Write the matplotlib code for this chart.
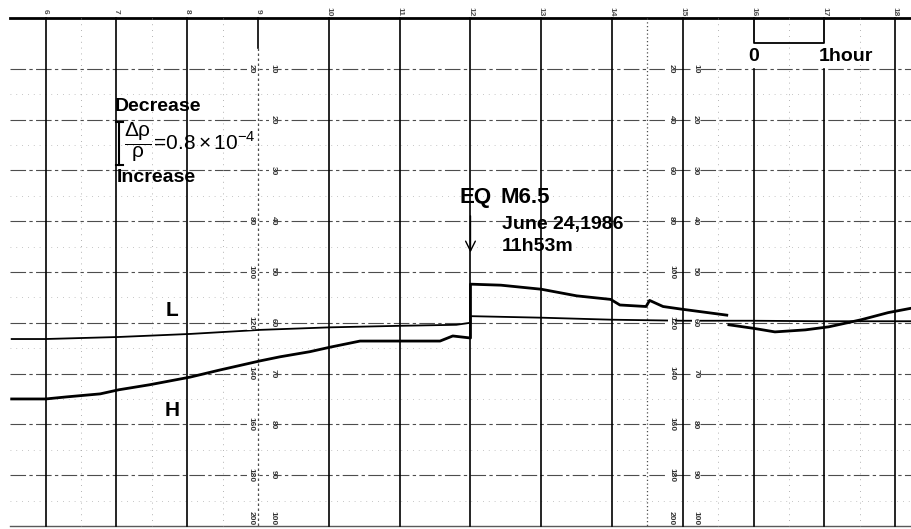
import numpy as np
import matplotlib
matplotlib.use("Agg")
import matplotlib.pyplot as plt

plt.rcParams["font.family"] = ["Liberation Sans", "DejaVu Sans"]
plt.rcParams["mathtext.fontset"] = "custom"
plt.rcParams["mathtext.rm"] = "Liberation Sans"
plt.rcParams["mathtext.it"] = "Liberation Sans:italic"
plt.rcParams["mathtext.bf"] = "Liberation Sans:bold"
plt.rcParams["mathtext.default"] = "rm"

# time axis (hour of day) and chart-paper units (0 = top line, 100 = bottom)
hours = list(range(6, 19))
major_units = [10, 20, 30, 40, 50, 60, 70, 80, 90]
minor_units = [15, 25, 35, 45, 55, 65, 75, 85, 95]
scale_units = [10, 20, 30, 40, 50, 60, 70, 80, 90, 100]

# L trace
l_hours = [5.52, 6.0, 7.03, 8.04, 9.03, 10.02, 11.0, 11.8, 12.0, 12.0, 13.0, 14.0, 15.0, 15.98, 16.98, 18.24]
l_vals = [63.2, 63.2, 62.8, 62.2, 61.4, 60.9, 60.6, 60.4, 60.0, 58.7, 59.0, 59.4, 59.6, 59.6, 59.7, 59.7]

# H trace (NaN = pen gap)
h_hours = [5.52, 6.0, 6.29, 6.77, 7.03, 7.47, 8.04, 8.46, 9.03, 9.31, 9.73, 10.02, 10.44,
           11.0, 11.57, 11.75, 12.0, 12.0, 12.43, 13.0, 13.5, 13.98, 14.11, 14.48, 14.53,
           14.72, 14.97, 15.62, np.nan, 15.65, 16.0, 16.3, 16.73, 17.06, 17.52, 17.9, 18.24]
h_vals = [75.0, 75.0, 74.6, 74.0, 73.2, 72.2, 70.7, 69.3, 67.5, 66.7, 65.7, 64.8, 63.6,
          63.6, 63.6, 62.6, 63.0, 52.4, 52.6, 53.4, 54.7, 55.4, 56.5, 56.8, 55.6,
          56.8, 57.3, 58.5, np.nan, 60.4, 61.1, 61.8, 61.4, 60.8, 59.4, 58.0, 57.1]

fig = plt.figure(figsize=(9.12, 5.29), dpi=100)
ax = fig.add_axes([0, 0, 1, 1])
ax.set_xlim(5.355, 18.236)
ax.set_ylim(100.6, -3.54)
ax.axis("off")

x0 = 5.5
# horizontal grid
for u in major_units:
    ax.plot([x0, 18.3], [u, u], color="0.3", lw=0.8, ls=(0, (14, 3, 3, 3)))
for u in minor_units:
    ax.plot([x0, 18.3], [u, u], color="0.7", lw=0.6, ls=(0, (1, 6)))
ax.plot([x0, 18.3], [100, 100], color="0.35", lw=1.0)
ax.plot([x0, 18.3], [0, 0], color="black", lw=2.0)

# half-hour dotted lines
for hh in [6.5, 7.5, 8.5, 15.5, 16.5, 17.5]:
    ax.plot([hh, hh], [0, 100], color="0.6", lw=0.6, ls=(0, (1, 6)))
ax.plot([14.5, 14.5], [0, 100], color="0.3", lw=0.9, ls=(0, (1, 2)))

# hour lines
for h in hours:
    if h == 9:
        ax.plot([h, h], [0, 6], color="black", lw=1.2)
        ax.plot([h, h], [6, 100], color="0.3", lw=0.9, ls=(0, (2, 2)))
    elif h in (16, 17):
        ax.plot([h, h], [10, 100], color="black", lw=1.2)
    else:
        ax.plot([h, h], [0, 100], color="black", lw=1.2)
    ax.text(h, -1.3, str(h), rotation=-90, fontsize=6, color="0.3",
            ha="center", va="center", fontweight="bold")

# chart paper scale numbers
for col_l, col_r, skip in [(8.905, 9.21, (20, 30)), (14.84, 15.18, ())]:
    for u in scale_units:
        yy = min(u, 98.4)
        if u not in skip:
            ax.text(col_l, yy, str(2 * u), rotation=-90, fontsize=6, fontweight="bold",
                    color="0.2", ha="center", va="center",
                    bbox=dict(fc="white", ec="none", pad=0.3))
        ax.text(col_r, yy, str(u), rotation=-90, fontsize=6, fontweight="bold",
                color="0.2", ha="center", va="center",
                bbox=dict(fc="white", ec="none", pad=0.3))

# traces
ax.plot(l_hours, l_vals, color="black", lw=1.3)
ax.plot(h_hours, h_vals, color="black", lw=2.0)

# 1 hour scale bar
ax.plot([16.0, 16.0, 17.0, 17.0], [0, 5.0, 5.0, 0], color="black", lw=1.3)
ax.text(16.0, 7.6, "0", fontsize=14, fontweight="bold", ha="center", va="center")
ax.text(16.92, 7.6, "1hour", fontsize=14, fontweight="bold", ha="left", va="center")

# sensitivity bracket
ax.text(6.98, 17.5, "Decrease", fontsize=14, fontweight="bold", ha="left", va="center")
ax.text(7.0, 31.5, "Increase", fontsize=14, fontweight="bold", ha="left", va="center")
ax.plot([7.04, 7.04], [20.4, 28.9], color="black", lw=1.5)
ax.plot([6.99, 7.09], [20.4, 20.4], color="black", lw=1.5)
ax.plot([6.99, 7.09], [28.9, 28.9], color="black", lw=1.5)
ax.text(7.1, 24.5, r"$\dfrac{\Delta\rho}{\rho}\!=\!0.8\times10^{-4}$", fontsize=15,
        ha="left", va="center")

# trace labels
ax.text(7.78, 57.5, "L", fontsize=15, fontweight="bold", ha="center", va="center")
ax.text(7.78, 77.2, "H", fontsize=15, fontweight="bold", ha="center", va="center")

# earthquake annotation
ax.text(11.85, 35.4, "EQ", fontsize=16, fontweight="bold", ha="left", va="center")
ax.text(12.43, 35.4, "M6.5", fontsize=16, fontweight="bold", ha="left", va="center")
ax.text(12.44, 40.6, "June 24,1986", fontsize=14, fontweight="bold", ha="left", va="center")
ax.text(12.44, 44.9, "11h53m", fontsize=14, fontweight="bold", ha="left", va="center")
ax.annotate("", xy=(12.0, 46.7), xytext=(12.0, 38.4),
            arrowprops=dict(arrowstyle="->,head_length=0.7,head_width=0.35", lw=1.0, color="black"))

fig.savefig("out.png", dpi=100, facecolor="white")
